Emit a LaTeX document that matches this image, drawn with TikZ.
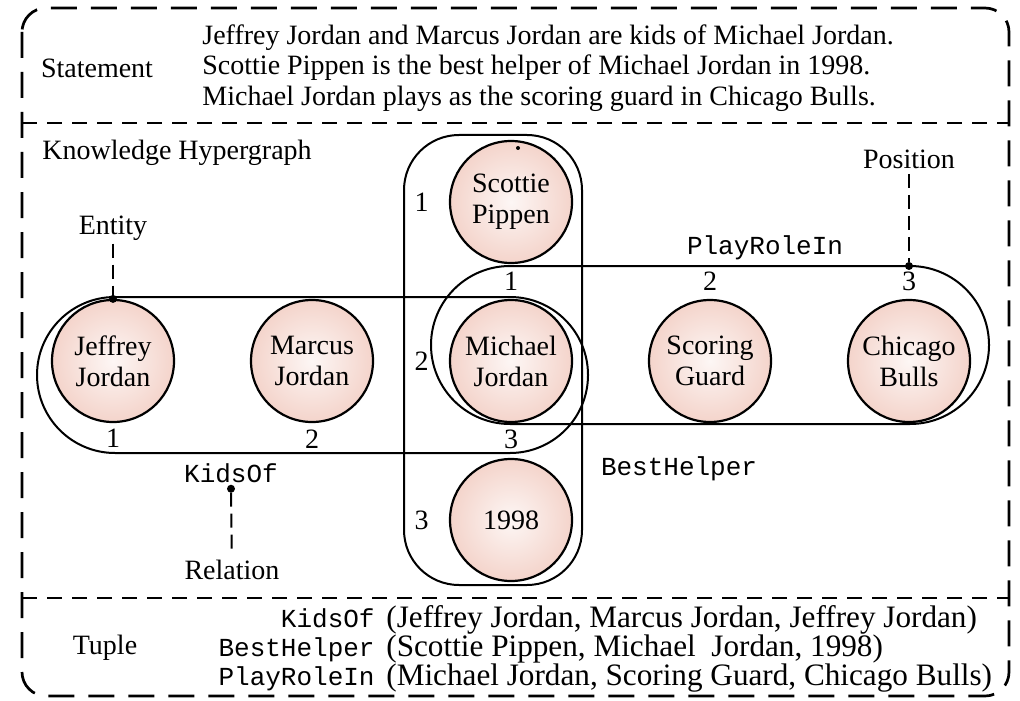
\documentclass[tikz,border=0pt]{standalone}
\usepackage{fontspec}
\setmainfont{Liberation Serif}
\setmonofont{Liberation Mono}
\usetikzlibrary{positioning}
\definecolor{entpink}{RGB}{244,212,203}
\tikzstyle{entity} = [draw,circle,line width=1.1pt,minimum size=61pt,inner sep=0,align=center,inner color=entpink!20,outer color=entpink,font=\fontsize{14}{15.5}\selectfont]
\tikzstyle{hedge} = [draw,line width=1pt]
\tikzstyle{num} = [inner sep=0pt,font=\fontsize{14}{15}\selectfont]
\tikzstyle{rel} = [inner sep=0pt,anchor=base,font=\fontsize{13}{14}\selectfont\ttfamily]
\tikzstyle{note} = [inner sep=0pt,font=\fontsize{14}{15.25}\selectfont]
\tikzstyle{args} = [inner sep=0pt,anchor=base west,font=\fontsize{15.6}{16}\selectfont]
\tikzstyle{pointer} = [line width=1pt,dash pattern=on 7pt off 3.5pt]
\tikzstyle{site} = [circle,fill=black,minimum size=4pt,inner sep=0pt,outer sep=0pt]
\tikzstyle{frame} = [line width=1.35pt,dash pattern=on 13pt off 7pt]
\tikzstyle{divider} = [line width=1.15pt,dash pattern=on 7.5pt off 5pt]
\def \gap {37.4pt}
\def \vgap {17.4pt}

\begin{document}
\begin{tikzpicture}[x=0.5pt,y=-0.5pt]
  \useasboundingbox (0,0) rectangle (1020,700);
  % outer frame and the three bands
  \draw[frame,rounded corners=12pt] (22,8) rectangle (1009,696);
  \draw[divider] (22,123) -- (1009,123);
  \draw[divider] (22,598) -- (1009,598);

  % statement band
  \node[note] (stlab) at (97,68) {Statement};
  \node[note,anchor=west,align=left] (sttext) at (202,68) {Jeffrey Jordan and Marcus Jordan are kids of Michael Jordan.\\
    Scottie Pippen is the best helper of Michael Jordan in 1998.\\
    Michael Jordan plays as the scoring guard in Chicago Bulls.};

  % hypergraph band
  \node[note,anchor=west] (khlab) at (42,153) {Knowledge Hypergraph};
  \node[entity] (jeffrey) at (113,361) {Jeffrey\\Jordan};
  \node[entity,right=\gap of jeffrey] (marcus) {Marcus\\Jordan};
  \node[entity,right=\gap of marcus] (michael) {Michael\\Jordan};
  \node[entity,right=\gap of michael] (guard) {Scoring\\Guard};
  \node[entity,right=\gap of guard] (bulls) {Chicago\\Bulls};
  \node[entity,above=\vgap of michael] (scottie) {Scottie\\Pippen};
  \node[entity,below=\vgap of michael] (year) {1998};
  \node[site,minimum size=2pt] (speck) at (518,148) {};

  \draw[hedge,rounded corners=39pt] (37,297) rectangle (588,453);     % KidsOf
  \draw[hedge,rounded corners=39.5pt] (431,266) rectangle (989,424);  % PlayRoleIn
  \draw[hedge,rounded corners=27.5pt] (404,135) rectangle (582,585);  % BestHelper

  \node[num,below=3pt of jeffrey] (k1) {1};
  \node[num,below=3pt of marcus] (k2) {2};
  \node[num,below=3pt of michael] (k3) {3};
  \node[num,above=4pt of michael] (p1) {1};
  \node[num,above=4pt of guard] (p2) {2};
  \node[num,above=4pt of bulls] (p3) {3};
  \node[num,left=10pt of scottie] (b1) {1};
  \node[num,left=10pt of michael] (b2) {2};
  \node[num,left=10pt of year] (b3) {3};

  \node[rel] (kidsof) at (231,482) {KidsOf};
  \node[rel] (playrolein) at (765,254) {PlayRoleIn};
  \node[rel] (besthelper) at (679,475) {BestHelper};

  % pointers
  \node[note] (entlab) at (113,228) {Entity};
  \node[site] (entdot) at (jeffrey.north) {};
  \draw[pointer,shorten <=1.5pt] (entlab) -- (entdot);
  \node[note] (poslab) at (909,159) {Position};
  \node[site] (posdot) at (909,266) {};
  \draw[pointer,shorten <=2.5pt] (poslab) -- (posdot);
  \node[note] (rellab) at (232,570) {Relation};
  \node[site,below=1pt of kidsof] (reldot) {};
  \draw[pointer,shorten >=3pt] (reldot) -- (rellab);

  % tuple band
  \node[note] (tuplab) at (105,648) {Tuple};
  \node[rel,anchor=base east] (tkids) at (375,627) {KidsOf};
  \node[rel,anchor=base east] (tbest) at (375,656) {BestHelper};
  \node[rel,anchor=base east] (tplay) at (375,685) {PlayRoleIn};
  \node[args] (akids) at (386,627) {(Jeffrey Jordan, Marcus Jordan, Jeffrey Jordan)};
  \node[args] (abest) at (386,656) {(Scottie Pippen, Michael~~Jordan, 1998)};
  \node[args] (aplay) at (386,685) {(Michael Jordan, Scoring Guard, Chicago Bulls)};
\end{tikzpicture}
\end{document}
